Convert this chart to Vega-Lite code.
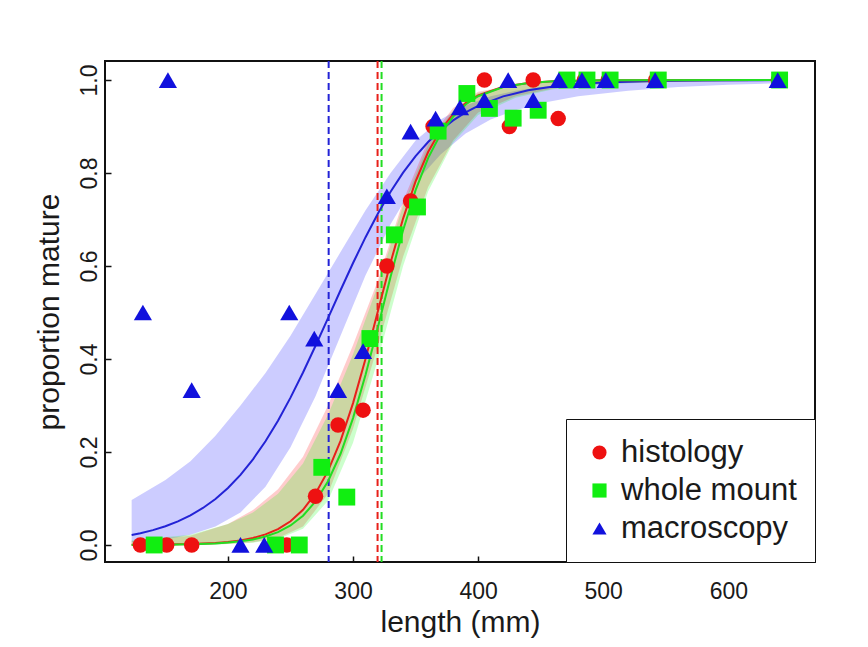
{
  "$schema": "https://vega.github.io/schema/vega-lite/v6.json",
  "width": 710,
  "height": 501,
  "autosize": {"type": "none"},
  "padding": {"left": 105, "top": 61, "right": 53, "bottom": 85},
  "background": "white",
  "datasets": {
    "points": [
      {"method": "histology", "x": 130, "y": 0},
      {"method": "histology", "x": 151, "y": 0},
      {"method": "histology", "x": 171, "y": 0},
      {"method": "histology", "x": 247, "y": 0},
      {"method": "histology", "x": 270, "y": 0.105},
      {"method": "histology", "x": 288, "y": 0.258},
      {"method": "histology", "x": 308, "y": 0.29},
      {"method": "histology", "x": 327, "y": 0.6},
      {"method": "histology", "x": 346, "y": 0.74},
      {"method": "histology", "x": 364, "y": 0.9},
      {"method": "histology", "x": 405, "y": 1.0},
      {"method": "histology", "x": 425, "y": 0.9},
      {"method": "histology", "x": 444, "y": 1.0},
      {"method": "histology", "x": 464, "y": 0.917},
      {"method": "histology", "x": 485, "y": 1.0},
      {"method": "histology", "x": 504, "y": 1.0},
      {"method": "histology", "x": 542, "y": 1.0},
      {"method": "histology", "x": 640, "y": 1.0},
      {"method": "whole mount", "x": 141, "y": 0},
      {"method": "whole mount", "x": 238, "y": 0},
      {"method": "whole mount", "x": 257, "y": 0},
      {"method": "whole mount", "x": 275, "y": 0.167},
      {"method": "whole mount", "x": 295, "y": 0.103},
      {"method": "whole mount", "x": 313.5, "y": 0.444},
      {"method": "whole mount", "x": 333, "y": 0.667},
      {"method": "whole mount", "x": 351.5, "y": 0.727},
      {"method": "whole mount", "x": 368, "y": 0.89},
      {"method": "whole mount", "x": 391, "y": 0.971},
      {"method": "whole mount", "x": 409, "y": 0.939},
      {"method": "whole mount", "x": 428, "y": 0.918},
      {"method": "whole mount", "x": 448, "y": 0.935},
      {"method": "whole mount", "x": 471, "y": 1.0},
      {"method": "whole mount", "x": 487, "y": 1.0},
      {"method": "whole mount", "x": 505.5, "y": 1.0},
      {"method": "whole mount", "x": 544, "y": 1.0},
      {"method": "whole mount", "x": 641, "y": 1.0},
      {"method": "macroscopy", "x": 132, "y": 0.5},
      {"method": "macroscopy", "x": 152, "y": 1.0},
      {"method": "macroscopy", "x": 171, "y": 0.333},
      {"method": "macroscopy", "x": 210, "y": 0},
      {"method": "macroscopy", "x": 229, "y": 0},
      {"method": "macroscopy", "x": 249, "y": 0.5},
      {"method": "macroscopy", "x": 269, "y": 0.444},
      {"method": "macroscopy", "x": 288, "y": 0.333},
      {"method": "macroscopy", "x": 308, "y": 0.417},
      {"method": "macroscopy", "x": 327, "y": 0.75},
      {"method": "macroscopy", "x": 346, "y": 0.889},
      {"method": "macroscopy", "x": 366, "y": 0.917},
      {"method": "macroscopy", "x": 385.5, "y": 0.941},
      {"method": "macroscopy", "x": 405, "y": 0.957},
      {"method": "macroscopy", "x": 424, "y": 1.0},
      {"method": "macroscopy", "x": 444, "y": 0.957},
      {"method": "macroscopy", "x": 464.5, "y": 1.0},
      {"method": "macroscopy", "x": 483, "y": 1.0},
      {"method": "macroscopy", "x": 502, "y": 1.0},
      {"method": "macroscopy", "x": 541.5, "y": 1.0},
      {"method": "macroscopy", "x": 639.5, "y": 1.0}
    ],
    "bands": [
      {"method": "macroscopy", "x": 123, "lo": 0.006, "hi": 0.097},
      {"method": "macroscopy", "x": 150, "lo": 0.012, "hi": 0.14},
      {"method": "macroscopy", "x": 170, "lo": 0.022, "hi": 0.18},
      {"method": "macroscopy", "x": 190, "lo": 0.04, "hi": 0.235},
      {"method": "macroscopy", "x": 210, "lo": 0.07, "hi": 0.3},
      {"method": "macroscopy", "x": 230, "lo": 0.125, "hi": 0.37},
      {"method": "macroscopy", "x": 250, "lo": 0.21, "hi": 0.45},
      {"method": "macroscopy", "x": 270, "lo": 0.32, "hi": 0.54},
      {"method": "macroscopy", "x": 290, "lo": 0.45, "hi": 0.63},
      {"method": "macroscopy", "x": 310, "lo": 0.58, "hi": 0.72},
      {"method": "macroscopy", "x": 330, "lo": 0.69, "hi": 0.8},
      {"method": "macroscopy", "x": 350, "lo": 0.78, "hi": 0.87},
      {"method": "macroscopy", "x": 370, "lo": 0.84, "hi": 0.915},
      {"method": "macroscopy", "x": 390, "lo": 0.885, "hi": 0.945},
      {"method": "macroscopy", "x": 410, "lo": 0.915, "hi": 0.965},
      {"method": "macroscopy", "x": 430, "lo": 0.935, "hi": 0.977},
      {"method": "macroscopy", "x": 450, "lo": 0.95, "hi": 0.985},
      {"method": "macroscopy", "x": 480, "lo": 0.965, "hi": 0.992},
      {"method": "macroscopy", "x": 520, "lo": 0.977, "hi": 0.996},
      {"method": "macroscopy", "x": 560, "lo": 0.985, "hi": 0.998},
      {"method": "macroscopy", "x": 600, "lo": 0.99, "hi": 0.999},
      {"method": "macroscopy", "x": 640, "lo": 0.993, "hi": 1.0},
      {"method": "histology", "x": 123, "lo": 0.0, "hi": 0.008},
      {"method": "histology", "x": 170, "lo": 0.0, "hi": 0.02},
      {"method": "histology", "x": 200, "lo": 0.002, "hi": 0.045},
      {"method": "histology", "x": 220, "lo": 0.006, "hi": 0.075},
      {"method": "histology", "x": 240, "lo": 0.015, "hi": 0.12},
      {"method": "histology", "x": 260, "lo": 0.04, "hi": 0.19},
      {"method": "histology", "x": 280, "lo": 0.11, "hi": 0.3},
      {"method": "histology", "x": 300, "lo": 0.25, "hi": 0.43},
      {"method": "histology", "x": 320, "lo": 0.43, "hi": 0.57},
      {"method": "histology", "x": 340, "lo": 0.62, "hi": 0.74},
      {"method": "histology", "x": 360, "lo": 0.77, "hi": 0.87},
      {"method": "histology", "x": 380, "lo": 0.87, "hi": 0.94},
      {"method": "histology", "x": 400, "lo": 0.93, "hi": 0.975},
      {"method": "histology", "x": 430, "lo": 0.965, "hi": 0.99},
      {"method": "histology", "x": 460, "lo": 0.982, "hi": 0.996},
      {"method": "histology", "x": 500, "lo": 0.992, "hi": 0.999},
      {"method": "histology", "x": 560, "lo": 0.997, "hi": 1.0},
      {"method": "histology", "x": 640, "lo": 0.999, "hi": 1.0},
      {"method": "whole mount", "x": 123, "lo": 0.0, "hi": 0.01},
      {"method": "whole mount", "x": 170, "lo": 0.0, "hi": 0.022},
      {"method": "whole mount", "x": 200, "lo": 0.002, "hi": 0.045},
      {"method": "whole mount", "x": 220, "lo": 0.005, "hi": 0.07},
      {"method": "whole mount", "x": 240, "lo": 0.013, "hi": 0.11},
      {"method": "whole mount", "x": 260, "lo": 0.035, "hi": 0.175},
      {"method": "whole mount", "x": 280, "lo": 0.095, "hi": 0.28},
      {"method": "whole mount", "x": 300, "lo": 0.22, "hi": 0.41},
      {"method": "whole mount", "x": 320, "lo": 0.4, "hi": 0.56},
      {"method": "whole mount", "x": 340, "lo": 0.6, "hi": 0.73},
      {"method": "whole mount", "x": 360, "lo": 0.76, "hi": 0.86},
      {"method": "whole mount", "x": 380, "lo": 0.865, "hi": 0.935},
      {"method": "whole mount", "x": 400, "lo": 0.925, "hi": 0.972},
      {"method": "whole mount", "x": 430, "lo": 0.962, "hi": 0.99},
      {"method": "whole mount", "x": 460, "lo": 0.98, "hi": 0.996},
      {"method": "whole mount", "x": 500, "lo": 0.991, "hi": 0.999},
      {"method": "whole mount", "x": 560, "lo": 0.997, "hi": 1.0},
      {"method": "whole mount", "x": 640, "lo": 0.999, "hi": 1.0}
    ],
    "curves": [
      {"method": "macroscopy", "x": 123, "p": 0.0216},
      {"method": "macroscopy", "x": 130, "p": 0.0254},
      {"method": "macroscopy", "x": 140, "p": 0.032},
      {"method": "macroscopy", "x": 150, "p": 0.0404},
      {"method": "macroscopy", "x": 160, "p": 0.0508},
      {"method": "macroscopy", "x": 170, "p": 0.0637},
      {"method": "macroscopy", "x": 180, "p": 0.0796},
      {"method": "macroscopy", "x": 190, "p": 0.099},
      {"method": "macroscopy", "x": 200, "p": 0.1226},
      {"method": "macroscopy", "x": 210, "p": 0.1509},
      {"method": "macroscopy", "x": 220, "p": 0.1842},
      {"method": "macroscopy", "x": 230, "p": 0.2231},
      {"method": "macroscopy", "x": 240, "p": 0.2674},
      {"method": "macroscopy", "x": 250, "p": 0.3169},
      {"method": "macroscopy", "x": 260, "p": 0.371},
      {"method": "macroscopy", "x": 270, "p": 0.4285},
      {"method": "macroscopy", "x": 280, "p": 0.488},
      {"method": "macroscopy", "x": 290, "p": 0.5479},
      {"method": "macroscopy", "x": 300, "p": 0.6064},
      {"method": "macroscopy", "x": 310, "p": 0.662},
      {"method": "macroscopy", "x": 320, "p": 0.7134},
      {"method": "macroscopy", "x": 330, "p": 0.7599},
      {"method": "macroscopy", "x": 340, "p": 0.8009},
      {"method": "macroscopy", "x": 350, "p": 0.8365},
      {"method": "macroscopy", "x": 360, "p": 0.8667},
      {"method": "macroscopy", "x": 370, "p": 0.8921},
      {"method": "macroscopy", "x": 380, "p": 0.9131},
      {"method": "macroscopy", "x": 390, "p": 0.9303},
      {"method": "macroscopy", "x": 400, "p": 0.9444},
      {"method": "macroscopy", "x": 420, "p": 0.9649},
      {"method": "macroscopy", "x": 440, "p": 0.978},
      {"method": "macroscopy", "x": 460, "p": 0.9862},
      {"method": "macroscopy", "x": 480, "p": 0.9914},
      {"method": "macroscopy", "x": 500, "p": 0.9947},
      {"method": "macroscopy", "x": 540, "p": 0.998},
      {"method": "macroscopy", "x": 580, "p": 0.9992},
      {"method": "macroscopy", "x": 640, "p": 0.9998},
      {"method": "histology", "x": 123, "p": 0.0003},
      {"method": "histology", "x": 150, "p": 0.0008},
      {"method": "histology", "x": 170, "p": 0.0019},
      {"method": "histology", "x": 190, "p": 0.0043},
      {"method": "histology", "x": 200, "p": 0.0065},
      {"method": "histology", "x": 210, "p": 0.0099},
      {"method": "histology", "x": 220, "p": 0.015},
      {"method": "histology", "x": 230, "p": 0.0227},
      {"method": "histology", "x": 240, "p": 0.0341},
      {"method": "histology", "x": 250, "p": 0.051},
      {"method": "histology", "x": 260, "p": 0.0757},
      {"method": "histology", "x": 270, "p": 0.1108},
      {"method": "histology", "x": 280, "p": 0.1594},
      {"method": "histology", "x": 290, "p": 0.2239},
      {"method": "histology", "x": 300, "p": 0.3051},
      {"method": "histology", "x": 310, "p": 0.4006},
      {"method": "histology", "x": 320, "p": 0.5042},
      {"method": "histology", "x": 330, "p": 0.6075},
      {"method": "histology", "x": 340, "p": 0.702},
      {"method": "histology", "x": 350, "p": 0.7819},
      {"method": "histology", "x": 360, "p": 0.8452},
      {"method": "histology", "x": 370, "p": 0.8925},
      {"method": "histology", "x": 380, "p": 0.9267},
      {"method": "histology", "x": 390, "p": 0.9506},
      {"method": "histology", "x": 400, "p": 0.967},
      {"method": "histology", "x": 420, "p": 0.9855},
      {"method": "histology", "x": 440, "p": 0.9937},
      {"method": "histology", "x": 460, "p": 0.9973},
      {"method": "histology", "x": 500, "p": 0.9995},
      {"method": "histology", "x": 640, "p": 1.0},
      {"method": "whole mount", "x": 123, "p": 0.0002},
      {"method": "whole mount", "x": 150, "p": 0.0006},
      {"method": "whole mount", "x": 170, "p": 0.0014},
      {"method": "whole mount", "x": 190, "p": 0.0033},
      {"method": "whole mount", "x": 200, "p": 0.0051},
      {"method": "whole mount", "x": 210, "p": 0.0078},
      {"method": "whole mount", "x": 220, "p": 0.0119},
      {"method": "whole mount", "x": 230, "p": 0.0181},
      {"method": "whole mount", "x": 240, "p": 0.0276},
      {"method": "whole mount", "x": 250, "p": 0.0419},
      {"method": "whole mount", "x": 260, "p": 0.063},
      {"method": "whole mount", "x": 270, "p": 0.0936},
      {"method": "whole mount", "x": 280, "p": 0.137},
      {"method": "whole mount", "x": 290, "p": 0.1962},
      {"method": "whole mount", "x": 300, "p": 0.2729},
      {"method": "whole mount", "x": 310, "p": 0.3659},
      {"method": "whole mount", "x": 320, "p": 0.47},
      {"method": "whole mount", "x": 330, "p": 0.5769},
      {"method": "whole mount", "x": 340, "p": 0.677},
      {"method": "whole mount", "x": 350, "p": 0.7631},
      {"method": "whole mount", "x": 360, "p": 0.832},
      {"method": "whole mount", "x": 370, "p": 0.8839},
      {"method": "whole mount", "x": 380, "p": 0.9213},
      {"method": "whole mount", "x": 390, "p": 0.9473},
      {"method": "whole mount", "x": 400, "p": 0.9651},
      {"method": "whole mount", "x": 420, "p": 0.9849},
      {"method": "whole mount", "x": 440, "p": 0.9936},
      {"method": "whole mount", "x": 460, "p": 0.9973},
      {"method": "whole mount", "x": 500, "p": 0.9995},
      {"method": "whole mount", "x": 640, "p": 1.0}
    ],
    "l50": [
      {"method": "macroscopy", "x": 280.5},
      {"method": "histology", "x": 319.6},
      {"method": "whole mount", "x": 322.8}
    ]
  },
  "config": {
    "font": "Liberation Sans",
    "view": {"stroke": "#111111", "strokeWidth": 2},
    "axis": {
      "domain": false,
      "grid": false,
      "tickColor": "#111111",
      "tickWidth": 1.5,
      "tickSize": -6,
      "labelColor": "#1a1a1a",
      "titleColor": "#1a1a1a",
      "labelFontSize": 23,
      "titleFontSize": 30,
      "titleFontWeight": "normal"
    },
    "axisX": {"labelPadding": 24, "titlePadding": 4},
    "axisY": {"labelAngle": 270, "labelAlign": "center", "labelBaseline": "alphabetic", "labelPadding": 15, "titlePadding": 14}
  },
  "layer": [
    {
      "data": {"name": "bands"},
      "transform": [{"filter": "datum.method === 'macroscopy'"}],
      "mark": {"type": "area", "fill": "#0000ff", "fillOpacity": 0.2, "clip": true},
      "encoding": {
        "x": {"field": "x", "type": "quantitative", "title": "length (mm)", "scale": {"domain": [101.7, 669.3], "nice": false, "zero": false}, "axis": {"values": [200, 300, 400, 500, 600]}},
        "y": {"field": "lo", "type": "quantitative", "title": "proportion mature", "scale": {"domain": [-0.0366, 1.0409], "nice": false, "zero": false}, "axis": {"values": [0, 0.2, 0.4, 0.6, 0.8, 1.0], "format": ".1f"}},
        "y2": {"field": "hi"}
      }
    },
    {
      "data": {"name": "bands"},
      "transform": [{"filter": "datum.method === 'histology'"}],
      "mark": {"type": "area", "fill": "#ff0000", "fillOpacity": 0.2, "clip": true},
      "encoding": {
        "x": {"field": "x", "type": "quantitative", "title": "length (mm)"},
        "y": {"field": "lo", "type": "quantitative", "title": "proportion mature"},
        "y2": {"field": "hi"}
      }
    },
    {
      "data": {"name": "bands"},
      "transform": [{"filter": "datum.method === 'whole mount'"}],
      "mark": {"type": "area", "fill": "#00ff00", "fillOpacity": 0.2, "clip": true},
      "encoding": {
        "x": {"field": "x", "type": "quantitative", "title": "length (mm)"},
        "y": {"field": "lo", "type": "quantitative", "title": "proportion mature"},
        "y2": {"field": "hi"}
      }
    },
    {
      "data": {"name": "l50"},
      "mark": {"type": "rule", "strokeWidth": 2, "strokeDash": [7, 4]},
      "encoding": {
        "x": {"field": "x", "type": "quantitative", "title": "length (mm)"},
        "stroke": {"field": "method", "type": "nominal", "scale": {"domain": ["macroscopy", "histology", "whole mount"], "range": ["#2323d6", "#e8201a", "#22dd22"]}, "legend": null}
      }
    },
    {
      "data": {"name": "curves"},
      "mark": {"type": "line", "strokeWidth": 2, "clip": true},
      "encoding": {
        "x": {"field": "x", "type": "quantitative", "title": "length (mm)"},
        "y": {"field": "p", "type": "quantitative", "title": "proportion mature"},
        "stroke": {"field": "method", "type": "nominal", "legend": null}
      }
    },
    {
      "data": {"name": "points"},
      "mark": {"type": "point", "filled": true, "opacity": 1},
      "encoding": {
        "x": {"field": "x", "type": "quantitative", "title": "length (mm)"},
        "y": {"field": "y", "type": "quantitative", "title": "proportion mature"},
        "size": {"field": "method", "type": "nominal", "scale": {"domain": ["macroscopy", "whole mount", "histology"], "range": [330, 240, 200]}, "legend": null},
        "color": {
          "field": "method", "type": "nominal", "sort": null,
          "scale": {"domain": ["histology", "whole mount", "macroscopy"], "range": ["#ee1111", "#11ee11", "#1111dd"]},
          "legend": {
            "title": null,
            "orient": "bottom-right",
            "offset": 0,
            "strokeColor": "#111111",
            "fillColor": "white",
            "padding": 18,
            "labelFontSize": 31,
            "labelLimit": 400,
            "labelColor": "#1a1a1a",
            "labelOffset": 6,
            "rowPadding": 6,
            "symbolSize": 200
          }
        },
        "shape": {
          "field": "method", "type": "nominal", "sort": null,
          "scale": {"domain": ["histology", "whole mount", "macroscopy"], "range": ["circle", "square", "triangle-up"]},
          "legend": {
            "title": null,
            "orient": "bottom-right",
            "offset": 0,
            "strokeColor": "#111111",
            "fillColor": "white",
            "padding": 18,
            "labelFontSize": 31,
            "labelLimit": 400,
            "labelColor": "#1a1a1a",
            "labelOffset": 6,
            "rowPadding": 6,
            "symbolSize": 200
          }
        }
      }
    }
  ]
}
